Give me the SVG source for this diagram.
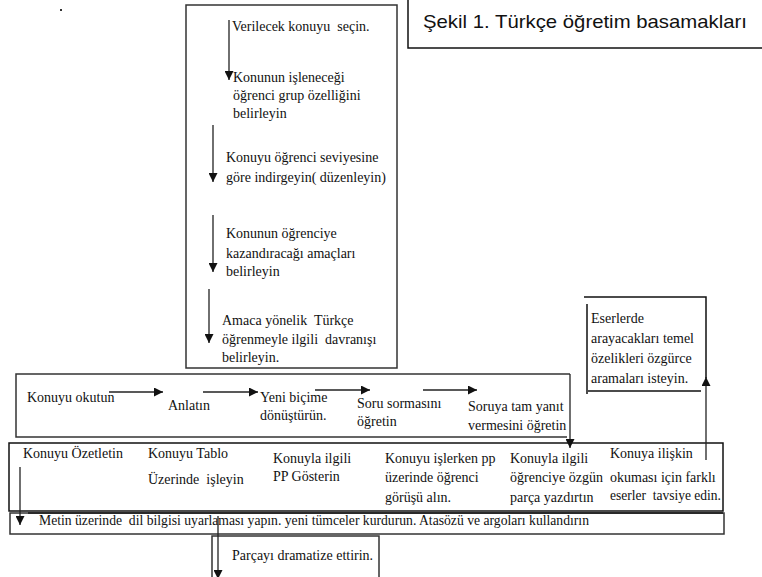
<svg xmlns="http://www.w3.org/2000/svg" width="762" height="577" viewBox="0 0 762 577">
<style>
text{white-space:pre}
.t{font-family:"Liberation Serif","Times New Roman",serif;font-size:14px;fill:#111}
.ti{font-family:"Liberation Sans",Arial,sans-serif;font-size:19px;fill:#111}
.box{fill:none;stroke:#333;stroke-width:1.5}
.bk{fill:none;stroke:#111;stroke-width:1.5}
.c{fill:none;stroke:#222;stroke-width:1.3}
</style>
<defs>
<marker id="ah" viewBox="0 0 10 10" refX="10" refY="5" markerWidth="9" markerHeight="9" markerUnits="userSpaceOnUse" orient="auto">
<path d="M0,0 L10,5 L0,10 z" fill="#111"/>
</marker>
</defs>
<rect x="0" y="0" width="762" height="577" fill="#fff"/>
<rect x="60" y="9" width="2" height="2" fill="#333"/>

<g id="title">
<rect class="bk" x="408" y="-2" width="356" height="50"/>
<text class="ti" x="423" y="28" textLength="324" lengthAdjust="spacingAndGlyphs">Şekil 1. Türkçe öğretim basamakları</text>
</g>

<g id="top-box">
<rect class="box" x="186" y="5" width="211" height="363"/>
</g>
<g id="step1"><text class="t" x="232" y="31" xml:space="preserve">Verilecek konuyu  seçin.</text></g>
<g id="step2">
<text class="t" x="233" y="82">Konunun işleneceği</text>
<text class="t" x="233" y="100">öğrenci grup özelliğini</text>
<text class="t" x="233" y="118">belirleyin</text>
</g>
<g id="step3">
<text class="t" x="226" y="162">Konuyu öğrenci seviyesine</text>
<text class="t" x="226" y="182">göre indirgeyin( düzenleyin)</text>
</g>
<g id="step4">
<text class="t" x="226" y="238">Konunun öğrenciye</text>
<text class="t" x="226" y="258">kazandıracağı amaçları</text>
<text class="t" x="226" y="276">belirleyin</text>
</g>
<g id="step5">
<text class="t" x="222" y="325" xml:space="preserve">Amaca yönelik  Türkçe</text>
<text class="t" x="222" y="344" xml:space="preserve">öğrenmeyle ilgili  davranışı</text>
<text class="t" x="222" y="362">belirleyin.</text>
</g>

<g id="row1">
<path class="box" d="M570,374 L16,374 L16,437 L567,437"/>
<text class="t" x="27" y="402">Konuyu okutun</text>
<text class="t" x="168" y="410">Anlatın</text>
<text class="t" x="260" y="402">Yeni biçime</text>
<text class="t" x="260" y="420">dönüştürün.</text>
<text class="t" x="357" y="408">Soru sormasını</text>
<text class="t" x="357" y="426">öğretin</text>
<text class="t" x="468" y="411">Soruya tam yanıt</text>
<text class="t" x="468" y="430">vermesini öğretin</text>
</g>

<g id="eserler">
<path class="bk" d="M584,297 L706,297 L706,378 M587,304 L587,394 M588,391 L701,391"/>
<text class="t" x="591" y="323">Eserlerde</text>
<text class="t" x="591" y="343">arayacakları temel</text>
<text class="t" x="591" y="363">özelikleri özgürce</text>
<text class="t" x="591" y="383">aramaları isteyin.</text>
</g>

<g id="row2">
<rect class="bk" x="9" y="443" width="714" height="68"/>
<line x1="28" y1="513" x2="723" y2="513" stroke="#111" stroke-width="2"/>
<text class="t" x="23" y="458">Konuyu Özetletin</text>
<text class="t" x="148" y="458">Konuyu Tablo</text>
<text class="t" x="148" y="484" xml:space="preserve">Üzerinde  işleyin</text>
<text class="t" x="273" y="463">Konuyla ilgili</text>
<text class="t" x="273" y="481">PP Gösterin</text>
<text class="t" x="385" y="463">Konuyu işlerken pp</text>
<text class="t" x="385" y="482">üzerinde öğrenci</text>
<text class="t" x="385" y="502">görüşü alın.</text>
<text class="t" x="510" y="463">Konuyla ilgili</text>
<text class="t" x="510" y="482">öğrenciye özgün</text>
<text class="t" x="510" y="502">parça yazdırtın</text>
<text class="t" x="610" y="458">Konuya ilişkin</text>
<text class="t" x="610" y="482">okuması için farklı</text>
<text class="t" x="610" y="500" xml:space="preserve" textLength="111" lengthAdjust="spacingAndGlyphs">eserler  tavsiye edin.</text>
</g>

<g id="row3">
<rect class="box" x="10" y="513" width="714" height="21"/>
<text class="t" x="39" y="525" xml:space="preserve" textLength="550" lengthAdjust="spacingAndGlyphs">Metin üzerinde  dil bilgisi uyarlaması yapın. yeni tümceler kurdurun. Atasözü ve argoları kullandırın</text>
</g>

<g id="dramatize">
<path class="box" d="M212,578 L212,536 L379,536 L379,578"/>
<text class="t" x="232" y="560">Parçayı dramatize ettirin.</text>
</g>

<g id="connectors">
<line class="c" x1="229" y1="20" x2="229" y2="80" marker-end="url(#ah)"/>
<line class="c" x1="213" y1="125" x2="213" y2="182" marker-end="url(#ah)"/>
<line class="c" x1="213" y1="215" x2="213" y2="272" marker-end="url(#ah)"/>
<line class="c" x1="209" y1="289" x2="209" y2="343" marker-end="url(#ah)"/>
<line class="c" x1="109" y1="392" x2="163" y2="392" marker-end="url(#ah)"/>
<line class="c" x1="203" y1="392" x2="258" y2="392" marker-end="url(#ah)"/>
<line class="c" x1="315" y1="390" x2="370" y2="390" marker-end="url(#ah)"/>
<line class="c" x1="423" y1="390" x2="477" y2="390" marker-end="url(#ah)"/>
<line class="c" x1="570" y1="374" x2="570" y2="448" marker-end="url(#ah)"/>
<line class="c" x1="20" y1="467" x2="20" y2="525" marker-end="url(#ah)"/>
<line class="c" x1="706" y1="460" x2="706" y2="377" marker-end="url(#ah)"/>
<line class="c" x1="218" y1="516" x2="218" y2="579" marker-end="url(#ah)"/>
</g>
</svg>
